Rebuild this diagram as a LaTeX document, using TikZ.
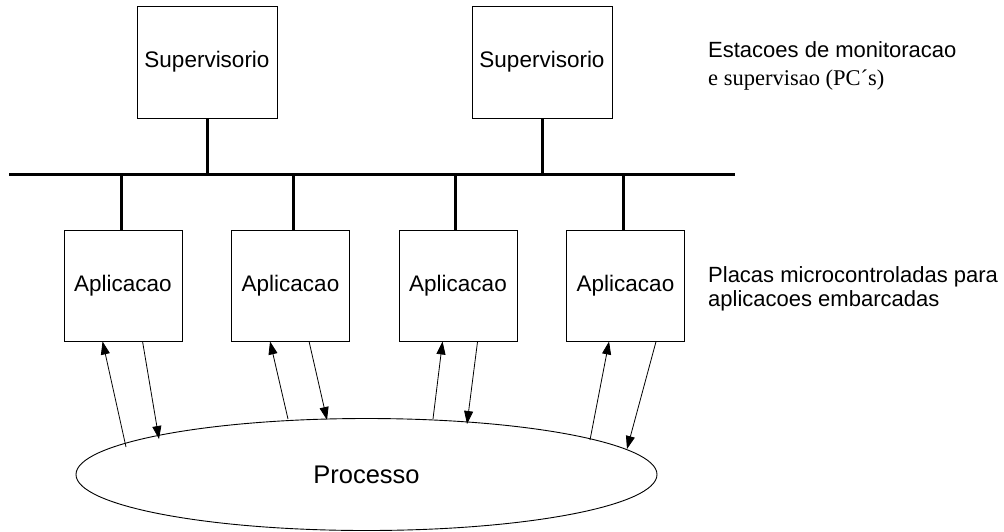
\documentclass[tikz,border=0pt]{standalone}
\usepackage{fontspec}
\setmainfont{Liberation Sans}
\newfontfamily\timesfont{Liberation Serif}
\usetikzlibrary{arrows.meta,calc,shapes.geometric}
\begin{document}
\begin{tikzpicture}[x=1pt,y=-1pt,
  boxtext/.style={font=\fontsize{22.5}{27}\selectfont},
  station/.style={draw,line width=0.9pt,minimum width=140pt,minimum height=112pt,inner sep=0pt,boxtext},
  board/.style={draw,line width=0.9pt,minimum width=118pt,minimum height=111pt,inner sep=0pt,boxtext},
  bus/.style={line width=3pt},
  flow/.style={line width=0.8pt,-{Triangle[length=13pt,width=9pt]}},
  note/.style={anchor=base west,inner sep=0pt,font=\fontsize{22}{26}\selectfont}
]
\useasboundingbox (0,0) rectangle (1004,531);

% supervisory stations
\node[station] (s1) at (207,62) {Supervisorio};
\node[station] (s2) at (542,62) {Supervisorio};

% field network
\coordinate (busL) at (9,174);
\coordinate (busR) at (735,174);
\draw[bus] (busL) -- (busR);

% embedded application boards
\node[board] (a1) at (123,285.5) {Aplicacao};
\node[board] (a2) at (290.5,285.5) {Aplicacao};
\node[board] (a3) at (458,285.5) {Aplicacao};
\node[board] (a4) at (625.5,285.5) {Aplicacao};

% drops from the bus
\draw[bus] (s1.south) -- (s1.south |- busL);
\draw[bus] (s2.south) -- (s2.south |- busL);
\foreach \b/\x in {a1/121,a2/293,a3/455,a4/623}
  \draw[bus] (\x,174) -- (\b.north -| {(\x,0)});

% controlled process
\node[ellipse,draw,line width=0.9pt,minimum width=581pt,minimum height=112pt,inner sep=0pt,
      font=\fontsize{25.5}{30}\selectfont] (proc) at (366.5,474.5) {Processo};

% contact points on the process outline
\coordinate (p1u) at (126,447);
\coordinate (p1d) at (159,439);
\coordinate (p2u) at (288,419);
\coordinate (p2d) at (327,420);
\coordinate (p3u) at (433,419);
\coordinate (p3d) at (467,424);
\coordinate (p4u) at (590,440);
\coordinate (p4d) at (627,449);

% signal exchange between boards and process
\draw[flow] (p1u) -- ($(a1.south west)+(39,0)$);
\draw[flow] ($(a1.south west)+(79,0)$) -- (p1d);
\draw[flow] (p2u) -- ($(a2.south west)+(39,0)$);
\draw[flow] ($(a2.south west)+(78,0)$) -- (p2d);
\draw[flow] (p3u) -- ($(a3.south west)+(44,0)$);
\draw[flow] ($(a3.south west)+(79,0)$) -- (p3d);
\draw[flow] (p4u) -- ($(a4.south west)+(43,0)$);
\draw[flow] ($(a4.south west)+(90,0)$) -- (p4d);

% side notes
\node[note] (n1) at (708,57) {Estacoes de monitoracao};
\node[note,font=\timesfont\fontsize{22.5}{26}\selectfont] (n2) at (708,85) {e supervisao (PC´s)};
\node[note] (n3) at (708,282) {Placas microcontroladas para};
\node[note] (n4) at (708,306) {aplicacoes embarcadas};
\end{tikzpicture}
\end{document}
